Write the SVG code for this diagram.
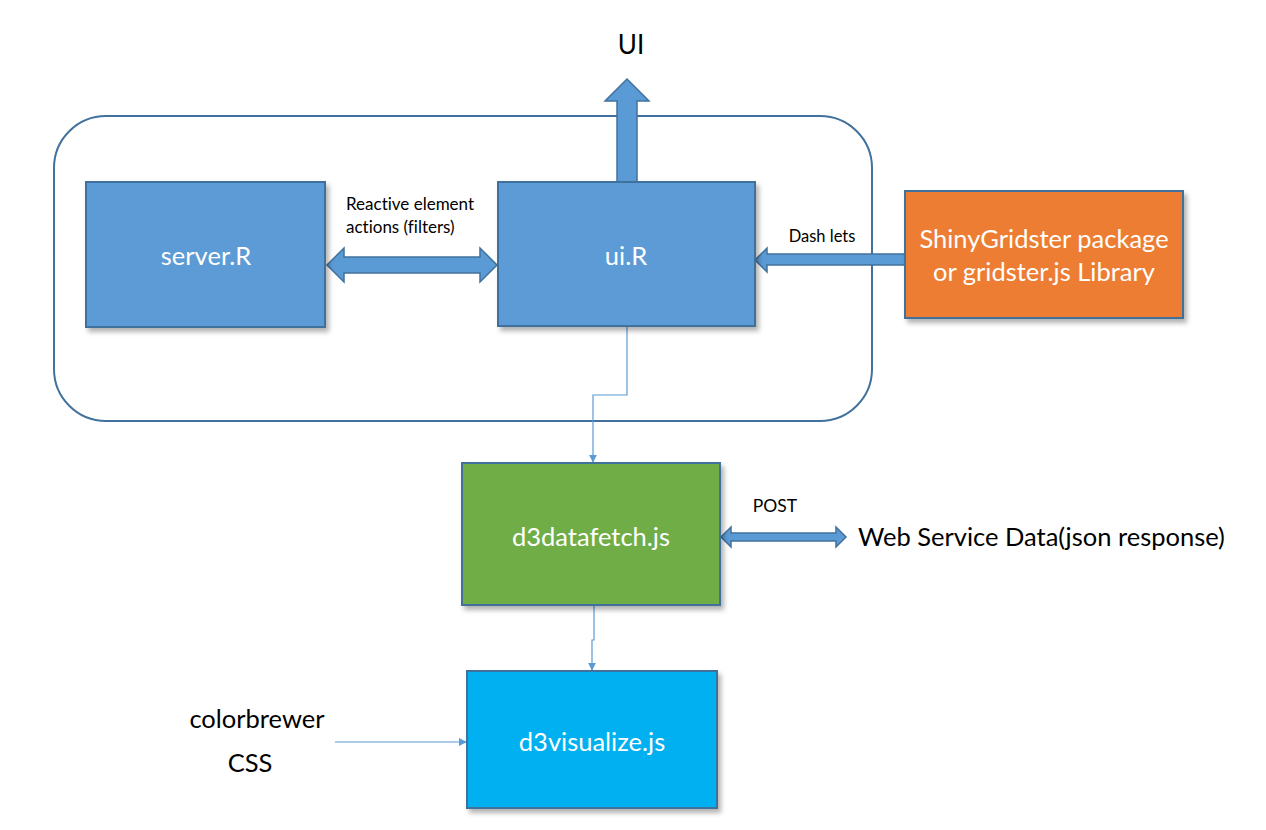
<svg xmlns="http://www.w3.org/2000/svg" width="1266" height="830" viewBox="0 0 1266 830">
<defs>
<style>
.box{stroke:#41719C;stroke-width:2;filter:url(#sh)}
.blue{fill:#5B9BD5}
.wt{fill:#fff;font-family:Lato,"Liberation Sans",sans-serif;font-size:25.5px;text-anchor:middle}
.bt{fill:#000;font-family:Lato,"Liberation Sans",sans-serif;font-variant-ligatures:none}
.fat{fill:#5B9BD5;stroke:#41719C;stroke-width:1.5}
.thin{fill:none;stroke:#5B9BD5;stroke-width:1.2}
</style>
<filter id="sh" x="-10%" y="-10%" width="130%" height="130%">
<feDropShadow dx="3" dy="4" stdDeviation="2.5" flood-color="#000" flood-opacity="0.3"/>
</filter>
<marker id="ah" viewBox="0 0 10 10" refX="9" refY="5" markerWidth="8" markerHeight="8" orient="auto" markerUnits="userSpaceOnUse">
<path d="M0,0 L10,5 L0,10 z" fill="#5B9BD5"/>
</marker>
</defs>
<rect width="1266" height="830" fill="#fff"/>
<g id="container">
<rect x="54" y="116" width="818" height="305" rx="52" ry="52" fill="none" stroke="#41719C" stroke-width="2"/>
</g>
<g id="connectors">
<path class="fat" d="M617,182 V101 H605 L627,79 L649,101 H637 V182 Z"/>
<path class="fat" d="M327,265 L344,248 V257 H480 V248 L497,265 L480,282 V273 H344 V282 Z"/>
<path class="fat" d="M905,254 H767 V248 L755,260 L767,272 V265 H905 Z"/>
<path class="fat" d="M721,537 L731,527 V533 H836 V527 L846,537 L836,547 V541 H731 V547 Z"/>
<path class="thin" d="M627,327 V395 H593 V462" marker-end="url(#ah)"/>
<path class="thin" d="M594,606 V640 H592 V670" marker-end="url(#ah)"/>
<path class="thin" d="M335,742 H466" marker-end="url(#ah)"/>
</g>
<g id="server">
<rect class="box blue" x="86" y="182" width="239" height="145"/>
<text class="wt" x="206" y="265">server.R</text>
</g>
<g id="ui">
<rect class="box blue" x="498" y="182" width="257" height="144"/>
<text class="wt" x="626" y="265">ui.R</text>
</g>
<g id="gridster">
<rect class="box" x="905" y="191" width="278" height="127" fill="#ED7D31"/>
<text class="wt" x="1044" y="248">ShinyGridster package</text>
<text class="wt" x="1044" y="281">or gridster.js Library</text>
</g>
<g id="datafetch">
<rect class="box" x="462" y="463" width="258" height="142" fill="#70AD47"/>
<text class="wt" x="591" y="546">d3datafetch.js</text>
</g>
<g id="visualize">
<rect class="box" x="467" y="671" width="250" height="137" fill="#00B0F0"/>
<text class="wt" x="592" y="751">d3visualize.js</text>
</g>
<g id="labels">
<text class="bt" x="631" y="54" font-size="26" text-anchor="middle">UI</text>
<text class="bt" x="346" y="210" font-size="17">Reactive element</text>
<text class="bt" x="346" y="233" font-size="17">actions (filters)</text>
<text class="bt" x="822" y="242" font-size="16.5" text-anchor="middle">Dash lets</text>
<text class="bt" x="775" y="512" font-size="17.5" text-anchor="middle">POST</text>
<text class="bt" x="858" y="546" font-size="25.5">Web Service Data(json response)</text>
<text class="bt" x="257" y="728" font-size="25.5" text-anchor="middle">colorbrewer</text>
<text class="bt" x="250" y="772" font-size="25.5" text-anchor="middle">CSS</text>
</g>
</svg>
